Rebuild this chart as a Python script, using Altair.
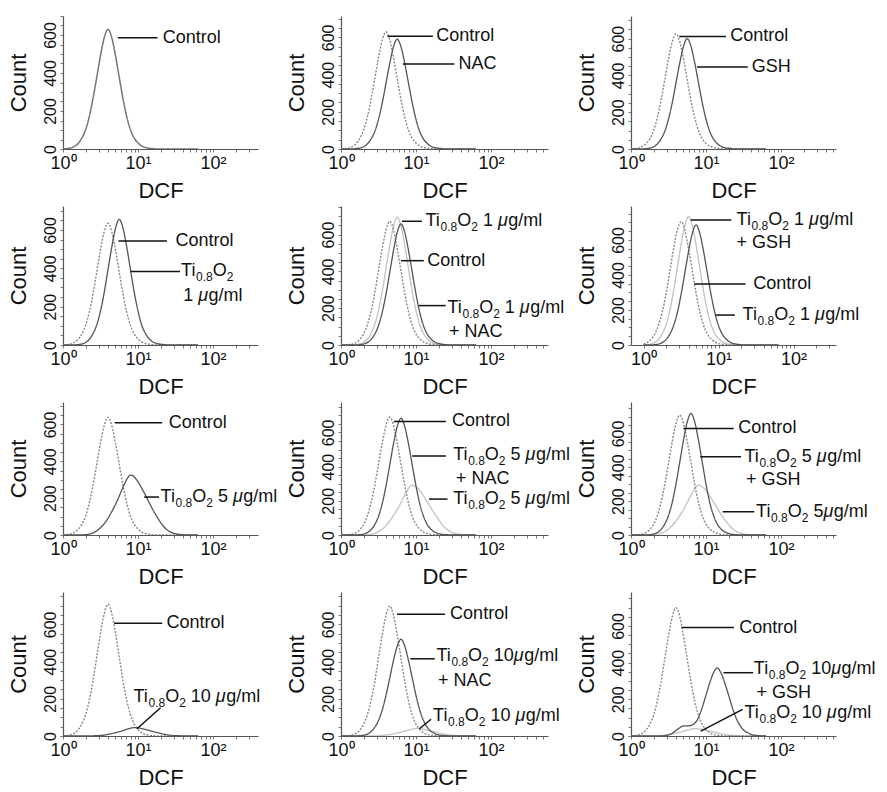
import altair as alt
import pandas as pd

FONT = "Liberation Sans"

# DCF histogram bins (log-spaced channel values)
DCF = [1.00, 1.12, 1.26, 1.41, 1.58, 1.78, 2.00, 2.24, 2.51, 2.82, 3.16, 3.55, 3.98, 4.47, 5.01, 5.62,
       6.31, 7.08, 7.94, 8.91, 10.0, 11.2, 12.6, 14.1, 15.8, 17.8, 20.0, 22.4, 25.1, 28.2, 31.6, 35.5,
       39.8, 44.7, 50.1, 56.2, 63.1]

# Counts per bin (trailing bins are zero)
P1_CONTROL = [0, 2, 5, 13, 28, 57, 101, 170, 265, 378, 491, 586, 630, 586, 491, 378, 265, 170, 101, 57, 32, 16, 8, 4, 2]
P2_CONTROL = [0, 2, 5, 13, 28, 57, 101, 170, 265, 378, 491, 586, 630, 586, 491, 378, 265, 170, 101, 57, 32, 16, 8, 4, 2]
P2_NAC = [0, 0, 0, 0, 2, 5, 12, 27, 53, 94, 159, 248, 354, 460, 549, 590, 549, 460, 354, 248, 159, 94, 53, 30, 15, 7, 4, 2]
P3_CONTROL = [0, 2, 5, 13, 28, 56, 100, 169, 263, 376, 489, 583, 627, 583, 489, 376, 263, 169, 100, 56, 31, 16, 8, 4, 2]
P3_GSH = [0, 0, 0, 0, 2, 5, 12, 27, 54, 96, 162, 252, 360, 468, 558, 600, 558, 468, 360, 252, 162, 96, 54, 30, 15, 7, 4, 2]
P4_CONTROL = [0, 2, 5, 13, 29, 57, 102, 171, 267, 381, 495, 591, 635, 591, 495, 381, 267, 171, 102, 57, 32, 16, 8, 4, 2]
P4_TI1 = [0, 0, 0, 0, 2, 5, 13, 29, 59, 105, 177, 275, 393, 511, 609, 655, 609, 511, 393, 275, 177, 105, 59, 33, 16, 8, 4, 2]
P5_CONTROL = [0, 0, 2, 5, 13, 30, 60, 108, 181, 282, 403, 524, 625, 672, 625, 524, 403, 282, 181, 108, 60, 34, 17, 8, 4, 2]
P5_TI1 = [0, 0, 0, 0, 2, 6, 14, 31, 62, 111, 187, 291, 416, 541, 645, 694, 645, 541, 416, 291, 187, 111, 62, 35, 17, 8, 4, 2]
P5_NAC = [0, 0, 0, 0, 0, 2, 5, 13, 30, 59, 105, 178, 276, 395, 513, 612, 658, 612, 513, 395, 276, 178, 105, 59, 33, 16, 8, 4, 2]
P6_CONTROL = [6, 14, 32, 63, 113, 190, 296, 423, 550, 656, 705, 656, 550, 423, 296, 190, 113, 63, 35, 18, 8, 4, 2]
P6_GSH = [0, 2, 6, 15, 33, 66, 117, 198, 308, 440, 572, 682, 733, 682, 572, 440, 308, 198, 117, 66, 37, 18, 9, 4, 2]
P6_TI1 = [0, 0, 0, 2, 5, 14, 31, 62, 110, 185, 288, 412, 535, 638, 686, 638, 535, 412, 288, 185, 110, 62, 34, 17, 8, 4, 2]
P7_CONTROL = [0, 2, 5, 13, 29, 58, 102, 173, 269, 384, 499, 595, 640, 595, 499, 384, 269, 173, 102, 58, 32, 16, 8, 4, 2]
P7_TI5 = [0, 0, 0, 0, 0, 0, 2, 5, 11, 23, 39, 62, 91, 127, 166, 211, 260, 302, 325, 315, 289, 254, 215, 176, 137, 101, 68, 42, 24, 13, 7, 3, 2]
P8_CONTROL = [0, 0, 2, 6, 14, 31, 62, 110, 186, 290, 414, 538, 642, 690, 642, 538, 414, 290, 186, 110, 62, 35, 17, 8, 4, 2]
P8_NAC = [0, 0, 0, 0, 0, 2, 5, 14, 31, 61, 109, 184, 287, 410, 533, 635, 683, 635, 533, 410, 287, 184, 109, 61, 34, 17, 8, 4, 2]
P8_TI5 = [0, 0, 0, 0, 0, 0, 0, 1, 4, 10, 20, 35, 55, 82, 114, 149, 190, 234, 272, 292, 283, 260, 228, 193, 158, 123, 91, 61, 38, 22, 12, 6, 3, 1]
P9_CONTROL = [0, 0, 2, 6, 14, 32, 64, 113, 191, 298, 425, 553, 659, 709, 659, 553, 425, 298, 191, 113, 64, 35, 18, 9, 4, 2]
P9_GSH = [0, 0, 0, 0, 0, 2, 6, 14, 32, 65, 115, 194, 302, 431, 560, 668, 718, 668, 560, 431, 302, 194, 115, 65, 36, 18, 9, 4, 2]
P9_TI5 = [0, 0, 0, 0, 0, 0, 1, 4, 10, 21, 35, 56, 83, 115, 150, 192, 236, 274, 295, 286, 263, 230, 195, 159, 124, 91, 62, 38, 22, 12, 6, 3, 1]
P10_CONTROL = [0, 2, 6, 14, 32, 64, 113, 191, 297, 425, 552, 658, 708, 658, 552, 425, 297, 191, 113, 64, 35, 18, 8, 4, 2]
P10_TI10 = [0, 0, 0, 0, 0, 0, 0, 0, 1, 2, 3, 5, 9, 13, 18, 23, 29, 36, 42, 45, 44, 40, 35, 30, 24, 19, 14, 9, 6, 3, 2, 1]
P11_CONTROL = [0, 0, 2, 6, 14, 31, 63, 112, 189, 294, 419, 545, 650, 699, 650, 545, 419, 294, 189, 112, 63, 35, 17, 8, 4, 2]
P11_NAC = [0, 0, 0, 0, 0, 2, 4, 10, 23, 47, 83, 140, 218, 312, 406, 484, 520, 484, 406, 312, 218, 140, 83, 47, 26, 13, 6, 3, 2]
P11_TI10 = [0, 0, 0, 0, 0, 0, 0, 0, 0, 1, 1, 3, 5, 8, 11, 16, 20, 26, 32, 37, 40, 39, 36, 31, 26, 22, 17, 12, 8, 5, 3, 2, 1]
P12_CONTROL = [0, 2, 6, 14, 32, 63, 112, 189, 294, 420, 546, 651, 700, 651, 546, 420, 294, 189, 112, 63, 35, 18, 8, 4, 2]
P12_GSH = [0, 0, 0, 0, 0, 0, 0, 0, 0, 2, 6, 15, 30, 45, 55, 55, 58, 70, 100, 156, 223, 289, 345, 371, 345, 289, 223, 156, 100, 59, 33, 19, 9, 4, 2, 1]
P12_TI10 = [0, 0, 0, 0, 0, 0, 1, 1, 3, 5, 8, 11, 16, 20, 26, 32, 37, 40, 39, 36, 31, 26, 22, 17, 12, 8, 5, 3, 2, 1]

TI1 = "Ti_{0.8}O_{2} 1 μg/ml"
TI5 = "Ti_{0.8}O_{2} 5 μg/ml"
TI10 = "Ti_{0.8}O_{2} 10 μg/ml"

# panels: series (name, style, counts), leader lines (x1, y1, x2, y2), labels (x, y, text)
PANELS = [
    dict(series=[("Control", "solo", P1_CONTROL)],
         leaders=[(5.4, 586, 18.2, 586)],
         labels=[(21.4, 586, "Control")], ymax=700),
    dict(series=[("Control", "ctrl", P2_CONTROL), ("NAC", "dark", P2_NAC)],
         leaders=[(4.17, 606, 16.8, 606), (6.7, 457, 32.5, 457)],
         labels=[(18.6, 606, "Control"), (36.8, 457, "NAC")], ymax=715),
    dict(series=[("Control", "ctrl", P3_CONTROL), ("GSH", "dark", P3_GSH)],
         leaders=[(4.41, 612, 18.5, 612), (7.6, 446, 36.0, 446)],
         labels=[(21.1, 612, "Control"), (40.7, 446, "GSH")], ymax=723),
    dict(series=[("Control", "ctrl", P4_CONTROL), ("Ti1", "dark", P4_TI1)],
         leaders=[(5.5, 543, 24.3, 543), (7.95, 383, 36.3, 383)],
         labels=[(31.7, 543, "Control"), (37.5, 388, "Ti_{0.8}O_{2}"), (40.0, 258, "1 μg/ml")], ymax=725),
    dict(series=[("Ti1", "light", P5_TI1), ("Control", "ctrl", P5_CONTROL), ("Ti1NAC", "dark", P5_NAC)],
         leaders=[(6.5, 672, 12.0, 672), (6.3, 458, 12.7, 458), (10.9, 214, 24.9, 214)],
         labels=[(13.4, 672, TI1), (14.1, 458, "Control"), (26.3, 200, TI1), (27.6, 72, "+ NAC")], ymax=755),
    dict(series=[("Ti1GSH", "light", P6_GSH), ("Control", "ctrl", P6_CONTROL), ("Ti1", "dark", P6_TI1)],
         leaders=[(4.24, 714, 14.8, 714), (4.73, 349, 22.9, 349), (9.1, 171, 16.5, 171)],
         labels=[(17.4, 714, TI1), (17.4, 585, "+ GSH"), (29.0, 349, "Control"), (20.9, 171, TI1)],
         ymax=794, xmin=0.68),
    dict(series=[("Control", "ctrl", P7_CONTROL), ("Ti5", "dark", P7_TI5)],
         leaders=[(4.9, 609, 21.0, 609), (12.1, 206, 19.1, 206)],
         labels=[(25.7, 609, "Control"), (20.0, 206, TI5)], ymax=722),
    dict(series=[("Ti5", "light", P8_TI5), ("Control", "ctrl", P8_CONTROL), ("Ti5NAC", "dark", P8_NAC)],
         leaders=[(5.07, 664, 25.0, 664), (8.9, 462, 25.0, 462), (14.9, 210, 26.3, 210)],
         labels=[(30.1, 664, "Control"), (31.3, 468, TI5), (34.0, 326, "+ NAC"), (31.3, 210, TI5)], ymax=778),
    dict(series=[("Ti5", "light", P9_TI5), ("Control", "ctrl", P9_CONTROL), ("Ti5GSH", "dark", P9_GSH)],
         leaders=[(5.0, 630, 23.4, 630), (8.4, 462, 29.3, 462), (16.7, 138, 44.0, 138)],
         labels=[(27.0, 630, "Control"), (32.5, 462, TI5), (34.2, 327, "+ GSH"),
                 (46.5, 138, "Ti_{0.8}O_{2} 5μg/ml")], ymax=786),
    dict(series=[("Control", "ctrl", P10_CONTROL), ("Ti10", "dark", P10_TI10)],
         leaders=[(4.8, 606, 21.0, 606), (9.7, 39, 20.0, 152)],
         labels=[(24.0, 606, "Control"), (8.7, 211, TI10)], ymax=774),
    dict(series=[("Ti10", "light", P11_TI10), ("Control", "ctrl", P11_CONTROL), ("Ti10NAC", "dark", P11_NAC)],
         leaders=[(5.6, 654, 24.3, 654), (8.4, 415, 17.8, 415), (11.1, 39, 15.9, 90)],
         labels=[(28.5, 654, "Control"), (18.7, 428, "Ti_{0.8}O_{2} 10μg/ml"), (19.7, 296, "+ NAC"),
                 (16.9, 108, TI10)], ymax=774),
    dict(series=[("Ti10", "light", P12_TI10), ("Control", "ctrl", P12_CONTROL), ("Ti10GSH", "dark", P12_GSH)],
         leaders=[(4.72, 591, 23.6, 591), (17.1, 345, 42.5, 345), (8.5, 27, 30.8, 145)],
         labels=[(27.7, 591, "Control"), (43.4, 366, "Ti_{0.8}O_{2} 10μg/ml"), (47.2, 234, "+ GSH"),
                 (32.6, 127, TI10)], ymax=785),
]

COL_W = [195, 207, 205]
ROW_H = [133, 139, 133, 144]
DECADE_PX = 75

STYLES = ["solo", "ctrl", "light", "dark"]
COLORS = ["#767676", "#8a8a8a", "#c4c4c4", "#555555"]
DASHES = [[1, 0], [2, 1.5], [1, 0], [1, 0]]
WIDTHS = [1.5, 1.3, 1.3, 1.6]

MAIN_FS = 18
SUB_FS = 12
SUB_DY = 6
CHAR_W = {"T": 0.611, "i": 0.222, ".": 0.278, "O": 0.778, " ": 0.278, "μ": 0.576, "g": 0.556,
          "/": 0.278, "m": 0.833, "l": 0.222, "+": 0.584, "N": 0.722, "A": 0.667, "C": 0.722,
          "G": 0.778, "S": 0.667, "H": 0.722, "o": 0.556, "n": 0.556, "t": 0.278, "r": 0.333}
for d in "0123456789":
    CHAR_W[d] = 0.556

MINOR = [m * 10 ** e for e in range(0, 3) for m in range(1, 10)]


def text_w(s, fs):
    return sum(CHAR_W.get(c, 0.556) for c in s) * fs


def label_segments(markup):
    """Split a label into (text, fontsize, px offset, px drop, italic) pieces."""
    segs, off, i, n = [], 0.0, 0, len(markup)
    while i < n:
        if markup.startswith("_{", i):
            j = markup.index("}", i)
            s = markup[i + 2:j]
            segs.append((s, SUB_FS, off, SUB_DY, False))
            off += text_w(s, SUB_FS)
            i = j + 1
        elif markup[i] == " ":
            off += CHAR_W[" "] * MAIN_FS
            i += 1
        elif markup[i] == "μ":
            segs.append(("μ", MAIN_FS, off, 0, True))
            off += CHAR_W["μ"] * MAIN_FS
            i += 1
        else:
            j = i
            while j < n and markup[j] not in " μ" and not markup.startswith("_{", j):
                j += 1
            s = markup[i:j]
            segs.append((s, MAIN_FS, off, 0, False))
            off += text_w(s, MAIN_FS)
            i = j
    return segs


def hist(vals):
    vals = list(vals)[:len(DCF)]
    return vals + [0] * (len(DCF) - len(vals))


def make_panel(k, p):
    w = COL_W[k % 3]
    h = ROW_H[k // 3]
    xmin = p.get("xmin", 1.0)
    xmax = xmin * 10 ** (w / DECADE_PX)
    ymax = p["ymax"]
    xs = alt.Scale(type="log", domain=[xmin, xmax], nice=False)
    ys = alt.Scale(domain=[0, ymax], nice=False, zero=True)
    xaxis = alt.Axis(
        values=[v for v in MINOR if xmin <= v <= xmax],
        labelExpr="datum.value == 1 ? '10⁰' : datum.value == 10 ? '10¹' : datum.value == 100 ? '10²' : ''",
        title="DCF", grid=False, tickSize=3, tickColor="#777777", domainColor="#555555", domainWidth=1.2,
        labelFont=FONT, labelFontSize=18, labelColor="#111111", labelFlush=False, labelOverlap=False,
        labelPadding=2, titleFont=FONT, titleFontSize=22, titleFontWeight="normal", titleColor="#111111",
        titlePadding=8)
    yaxis = alt.Axis(
        values=list(range(0, int(ymax) + 1, 50)),
        labelExpr="datum.value % 200 == 0 ? datum.label : ''",
        title="Count", grid=False, tickSize=3, tickColor="#777777", domainColor="#555555", domainWidth=1.2,
        labelFont=FONT, labelFontSize=16, labelColor="#111111", labelAngle=270, labelAlign="center",
        labelBaseline="bottom", labelFlush=False, labelOverlap=False, labelPadding=2,
        titleFont=FONT, titleFontSize=22, titleFontWeight="normal", titleColor="#111111", titlePadding=12)

    rows = []
    for name, style, vals in p["series"]:
        for xv, yv in zip(DCF, hist(vals)):
            rows.append(dict(series=name, style=style, dcf=xv, count=yv))
    df = pd.DataFrame(rows)
    lines = alt.Chart(df).mark_line(interpolate="monotone", clip=True).encode(
        x=alt.X("dcf:Q", scale=xs, axis=xaxis),
        y=alt.Y("count:Q", scale=ys, axis=yaxis),
        color=alt.Color("style:N", scale=alt.Scale(domain=STYLES, range=COLORS), legend=None),
        strokeDash=alt.StrokeDash("style:N", scale=alt.Scale(domain=STYLES, range=DASHES), legend=None),
        strokeWidth=alt.StrokeWidth("style:N", scale=alt.Scale(domain=STYLES, range=WIDTHS), legend=None),
        detail="series:N",
    )
    ldf = pd.DataFrame(p["leaders"], columns=["dcf", "count", "dcf2", "count2"])
    rules = alt.Chart(ldf).mark_rule(color="#111111", strokeWidth=1.5).encode(
        x=alt.X("dcf:Q", scale=xs, axis=xaxis), x2="dcf2:Q",
        y=alt.Y("count:Q", scale=ys, axis=yaxis), y2="count2:Q")

    # text pieces placed in data space (pixel offsets converted through the panel's scales)
    trows = []
    for (x, y, m) in p["labels"]:
        for (s, fs, off, drop, it) in label_segments(m):
            trows.append(dict(dcf=x * 10 ** (off / DECADE_PX), count=y - drop * ymax / h,
                              t=s, fs=fs, it=it))
    tdf = pd.DataFrame(trows)

    def text_layer(d, style, fs):
        return alt.Chart(d[["dcf", "count", "t"]]).mark_text(
            align="left", baseline="middle", font=FONT, fontStyle=style, fontSize=fs,
            color="#111111").encode(
            x=alt.X("dcf:Q", scale=xs, axis=xaxis),
            y=alt.Y("count:Q", scale=ys, axis=yaxis),
            text="t:N")

    layers = [lines, rules]
    main = tdf[(tdf["fs"] == MAIN_FS) & (~tdf["it"])]
    sub = tdf[tdf["fs"] == SUB_FS]
    ital = tdf[tdf["it"]]
    layers.append(text_layer(main, "normal", MAIN_FS))
    if len(sub):
        layers.append(text_layer(sub, "normal", SUB_FS))
    if len(ital):
        layers.append(text_layer(ital, "italic", MAIN_FS))
    return alt.layer(*layers).properties(width=w, height=h)


panels = [make_panel(k, p) for k, p in enumerate(PANELS)]

chart = alt.concat(
    *panels, columns=3,
    spacing=alt.RowColnumber(row=57, column=83),
    bounds="flush", align="each",
).properties(
    padding={"left": 6, "top": 15, "right": 5, "bottom": 5}
).configure(font=FONT).configure_view(stroke=None)

chart.save("out.html", embed_options={"renderer": "svg", "actions": False})
